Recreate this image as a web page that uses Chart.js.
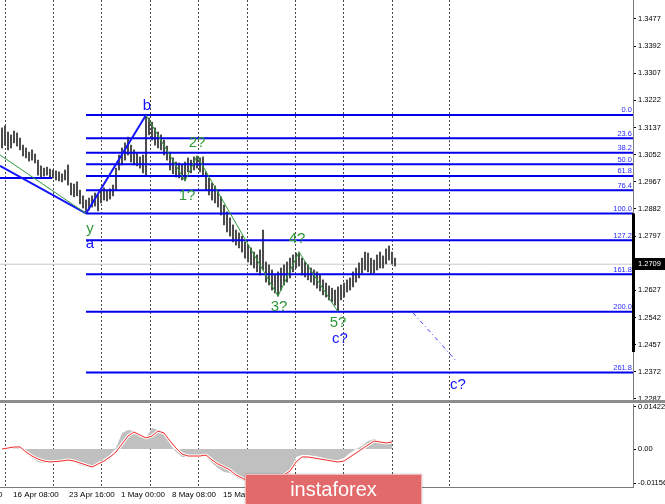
<!DOCTYPE html>
<html><head><meta charset="utf-8">
<script src="https://cdn.jsdelivr.net/npm/chart.js@4"></script>
<style>
html,body{margin:0;padding:0;background:#fff;width:665px;height:504px;overflow:hidden;}
#wrap{position:relative;width:665px;height:504px;}
#main{position:absolute;left:0;top:0;width:665px;height:404px;}
#osc{position:absolute;left:0;top:400px;width:665px;height:104px;}
#logo{position:absolute;left:245px;top:474px;width:177px;height:31px;background:#e36a6a;color:#fff;
 font:20px "Liberation Sans",Arial,sans-serif;display:flex;align-items:center;justify-content:center;
 box-sizing:border-box;border:1px solid #f3b8b8;box-shadow:0 0 2px rgba(0,0,0,.25);}
</style></head>
<body><div id="wrap">
<canvas id="main" width="665" height="404"></canvas>
<canvas id="osc" width="665" height="104"></canvas>
<div id="logo">instaforex</div>
</div>
<script>
// ---------- data ----------
const xMin = -0.667, xMax = 210.33;           // bar-index domain
const yMin = 1.22837, yMax = 1.35365;         // price domain
const priceTicks = [1.3477,1.3392,1.3307,1.3222,1.3137,1.3052,1.2967,1.2882,1.2797,1.2627,1.2542,1.2457,1.2372,1.2287];
const lastPrice = 1.2709;

const highs = [1.3136,1.3142,1.3123,1.3114,1.3126,1.3120,1.3104,1.3082,1.3073,1.3060,
1.3067,1.3054,1.3035,1.3017,1.3010,1.3013,1.3007,1.3004,1.3001,1.2998,
1.2992,1.3004,1.3020,1.2963,1.2960,1.2967,1.2941,1.2923,1.2910,1.2916,
1.2923,1.2932,1.2926,1.2941,1.2948,1.2941,1.2945,1.2957,1.3010,1.3051,
1.3073,1.3089,1.3107,1.3082,1.3067,1.3057,1.3045,1.3051,1.3176,1.3167,
1.3154,1.3136,1.3123,1.3114,1.3098,1.3079,1.3060,1.3042,1.3029,1.3026,
1.3020,1.3029,1.3042,1.3035,1.3045,1.3048,1.3042,1.3045,1.2998,1.2979,
1.2963,1.2954,1.2941,1.2920,1.2894,1.2873,1.2854,1.2832,1.2816,1.2807,
1.2797,1.2779,1.2769,1.2760,1.2747,1.2738,1.2754,1.2816,1.2716,1.2707,
1.2691,1.2675,1.2685,1.2697,1.2707,1.2716,1.2728,1.2738,1.2744,1.2747,
1.2728,1.2716,1.2707,1.2697,1.2691,1.2685,1.2675,1.2660,1.2650,1.2641,
1.2634,1.2628,1.2638,1.2644,1.2650,1.2660,1.2666,1.2685,1.2697,1.2713,
1.2728,1.2747,1.2744,1.2728,1.2722,1.2738,1.2747,1.2735,1.2757,1.2766,
1.2747,1.2728];
const lows = [1.3073,1.3082,1.3067,1.3073,1.3089,1.3079,1.3067,1.3048,1.3042,1.3032,
1.3035,1.3026,1.2988,1.2982,1.2985,1.2988,1.2982,1.2979,1.2973,1.2970,
1.2967,1.2973,1.2957,1.2926,1.2920,1.2923,1.2898,1.2885,1.2868,1.2879,
1.2888,1.2891,1.2876,1.2901,1.2910,1.2907,1.2913,1.2923,1.2941,1.3004,
1.3020,1.3035,1.3051,1.3029,1.3020,1.3017,1.3010,1.2995,1.2988,1.3114,
1.3098,1.3082,1.3073,1.3067,1.3051,1.3035,1.3004,1.2992,1.2982,1.2979,
1.2973,1.2970,1.2998,1.2995,1.3004,1.3010,1.2998,1.2988,1.2941,1.2926,
1.2910,1.2901,1.2888,1.2863,1.2832,1.2810,1.2797,1.2779,1.2769,1.2760,
1.2747,1.2728,1.2716,1.2707,1.2697,1.2685,1.2675,1.2691,1.2653,1.2644,
1.2628,1.2619,1.2609,1.2628,1.2644,1.2653,1.2666,1.2685,1.2697,1.2703,
1.2675,1.2669,1.2660,1.2653,1.2644,1.2634,1.2625,1.2613,1.2606,1.2597,
1.2591,1.2581,1.2560,1.2597,1.2606,1.2622,1.2628,1.2638,1.2653,1.2666,
1.2681,1.2691,1.2685,1.2678,1.2681,1.2691,1.2697,1.2697,1.2710,1.2722,
1.2710,1.2703];

const fibHigh = 1.3176, fibLow = 1.2868, fibStartIdx = 28;
const fibRatios = [0,23.6,38.2,50,61.8,76.4,100,127.2,161.8,200,261.8];

const waveIdx   = [48, 61, 65, 92, 99, 112];
const wavePrice = [1.3176, 1.2970, 1.3048, 1.2609, 1.2747, 1.2560];
const waveNames = ['b','1?','2?','3?','4?','5?'];
const aIdx = 28, aPrice = 1.2868;

const leftBlueX = [-0.667, 28],    leftBlueY = [1.3017, 1.2868];
const leftGreenX = [-0.667, 28],   leftGreenY = [1.3051, 1.2868];
const oldLevelX = [-0.667, 16.67], oldLevelY = [1.2979, 1.2979];
const projX = [137, 151.67],       projY = [1.2557, 1.2403];
const axisMark = [1.2868, 1.2434];

const gridIdx = [1,17.17,33.33,49.5,65.5,81.67,97.67,113.83,130,149.33];
const dateLabels = ['9 Apr 00:00','16 Apr 08:00','23 Apr 16:00','1 May 00:00','8 May 08:00','15 May 16:00'];
const datePos = [-13.67, 3.67, 22.33, 39.67, 56.67, 73.67];

const oscIdx = [0,2,4,6,8,10,12,14,16,18,20,22,24,26,28,30,32,34,36,38,40,42,44,46,48,50,52,54,56,58,
60,62,64,66,68,70,72,74,76,78,80,82,84,86,88,90,92,94,96,98,100,102,104,106,108,110,112,114,116,118,
120,122,124,126,128,130];
const oscHist = [0,0.00068,0.00101,0.00068,-0.00169,-0.00304,-0.00439,-0.00473,-0.00439,-0.00372,
-0.00372,-0.00406,-0.00439,-0.00541,-0.00608,-0.00608,-0.00439,-0.00338,-0.00203,0.00034,
0.00541,0.00642,0.00608,0.00406,0.00372,0.00710,0.00642,0.00507,0.00169,-0.00101,
-0.00270,-0.00270,-0.00237,-0.00237,-0.00270,-0.00473,-0.00642,-0.00777,-0.00811,-0.00946,
-0.01048,-0.01149,-0.01183,-0.01217,-0.01217,-0.01183,-0.01115,-0.00980,-0.00811,-0.00270,
-0.00203,-0.00203,-0.00237,-0.00270,-0.00338,-0.00372,-0.00372,-0.00304,-0.00135,0,
0.00101,0.00270,0.00338,0.00270,0.00237,0.00304];
const oscSignal = [0,0.00034,0.00068,0.00068,-0.00101,-0.00237,-0.00338,-0.00406,-0.00439,-0.00423,
-0.00406,-0.00372,-0.00406,-0.00473,-0.00541,-0.00608,-0.00507,-0.00406,-0.00270,-0.00101,
0.00169,0.00439,0.00575,0.00473,0.00372,0.00439,0.00608,0.00541,0.00270,0.00034,
-0.00169,-0.00237,-0.00237,-0.00237,-0.00203,-0.00372,-0.00507,-0.00608,-0.00710,-0.00879,
-0.00980,-0.01082,-0.01115,-0.01115,-0.01082,-0.01048,-0.00980,-0.00879,-0.00744,-0.00439,
-0.00270,-0.00270,-0.00304,-0.00338,-0.00372,-0.00406,-0.00439,-0.00406,-0.00270,-0.00135,
0,0.00135,0.00270,0.00237,0.00203,0.00237];
const oscMin = -0.01284, oscMax = 0.01521;
const oscTicks = [0.01422, 0, -0.01156];
const oscTickLabels = ['0.01422','0.00','-0.01156'];

// ---------- styles ----------
const FONT = '"Liberation Sans", Arial, sans-serif';
const BLUE = '#1414ff', GREEN = '#2f9a3a', FIBBLUE = '#0000ee';
const fibLevel = r => fibHigh - r / 100 * (fibHigh - fibLow);
const pts = (xs, ys) => xs.map((x, i) => ({x, y: ys[i]}));
const waveLabelOffset = {'b':[1,-9,BLUE],'1?':[2,15,GREEN],'2?':[0,-13,GREEN],'3?':[1,11,GREEN],'4?':[-2,-13,GREEN],'5?':[0,11,GREEN]};

function gridScale() {
  return {
    type: 'linear', min: xMin, max: xMax, offset: false, position: 'bottom',
    afterBuildTicks: s => { s.ticks = gridIdx.map(v => ({value: v})); },
    afterFit: s => { s.height = 0; s.paddingLeft = 0; s.paddingRight = 0; },
    ticks: {display: false},
    grid: {color: '#4a4a4a', lineWidth: 1, drawTicks: false, offset: false},
    border: {display: false, dash: [2, 2]}
  };
}

// ---------- main chart ----------
const mainDecor = {
  id: 'mainDecor',
  afterDatasetsDraw(chart) {
    const {ctx, chartArea: a, scales: {x, y}} = chart;
    ctx.save();
    ctx.font = '7.5px ' + FONT; ctx.fillStyle = '#2b2bff';
    ctx.textAlign = 'right'; ctx.textBaseline = 'bottom';
    fibRatios.forEach(r => ctx.fillText(r.toFixed(1), a.right - 1, y.getPixelForValue(fibLevel(r)) - 1));
    ctx.font = '15px ' + FONT; ctx.textAlign = 'center'; ctx.textBaseline = 'middle';
    const put = (t, xi, yv, dx, dy, c) => { ctx.fillStyle = c; ctx.fillText(t, x.getPixelForValue(xi) + dx, y.getPixelForValue(yv) + dy); };
    waveNames.forEach((n, i) => { const o = waveLabelOffset[n]; put(n, waveIdx[i], wavePrice[i], o[0], o[1], o[2]); });
    put('c?', waveIdx[5], wavePrice[5], 2, 27, BLUE);
    put('y', aIdx, aPrice, 4, 15, GREEN);
    put('a', aIdx, aPrice, 4, 30, BLUE);
    put('c?', projX[1], projY[1], 1, 23, BLUE);
    ctx.restore();
  },
  afterDraw(chart) {
    const {ctx, chartArea: a, scales: {y}} = chart;
    ctx.save();
    const y1 = y.getPixelForValue(axisMark[0]), y2 = y.getPixelForValue(axisMark[1]);
    ctx.fillStyle = '#000'; ctx.fillRect(a.right - 1, y1, 3, y2 - y1);
    const yy = Math.round(y.getPixelForValue(lastPrice));
    ctx.fillRect(a.right + 1, yy - 6, 31, 12);
    ctx.fillStyle = '#fff'; ctx.font = '7.5px ' + FONT; ctx.textAlign = 'left'; ctx.textBaseline = 'middle';
    ctx.fillText(lastPrice.toFixed(4), a.right + 5, yy);
    ctx.restore();
  }
};

const lineDs = (data, color, width, order, dash) => ({
  type: 'line', data, borderColor: color, borderWidth: width, pointRadius: 0,
  fill: false, tension: 0, order, borderDash: dash || []
});

const mainDatasets = [
  {type: 'bar', data: highs.map((h, i) => ({x: i, y: [lows[i], h]})),
   backgroundColor: '#4c4c4c', borderWidth: 0, barThickness: 1.4, order: 10},
  lineDs(pts([xMin, xMax], [lastPrice, lastPrice]), '#c8c8c8', 1, 20),
  ...fibRatios.map(r => lineDs(pts([fibStartIdx, xMax], [fibLevel(r), fibLevel(r)]), FIBBLUE, 2, 5)),
  lineDs(pts(oldLevelX, oldLevelY), FIBBLUE, 2, 5),
  lineDs(pts(leftBlueX, leftBlueY), BLUE, 2, 3),
  lineDs(pts(leftGreenX, leftGreenY), GREEN, 1, 2),
  lineDs(pts([aIdx, waveIdx[0]], [aPrice, wavePrice[0]]), BLUE, 2, 3),
  lineDs(pts(waveIdx, wavePrice), GREEN, 1, 2),
  lineDs(pts(projX, projY), '#3a3aff', 1, 2, [4, 3, 1, 3])
];

new Chart(document.getElementById('main'), {
  type: 'bar',
  data: {datasets: mainDatasets},
  options: {
    responsive: false, animation: false, devicePixelRatio: 1, events: [],
    layout: {padding: {top: 0, bottom: 4, left: 0, right: 0}},
    plugins: {legend: {display: false}, tooltip: {enabled: false}},
    scales: {
      x: {type: 'linear', min: xMin, max: xMax, offset: false, display: false},
      xg: gridScale(),
      y: {
        position: 'right', min: yMin, max: yMax,
        afterBuildTicks: s => { s.ticks = priceTicks.map(v => ({value: v})); },
        afterFit: s => { s.width = 32; s.paddingTop = 0; s.paddingBottom = 0; },
        ticks: {autoSkip: false, callback: v => Number(v).toFixed(4), font: {family: FONT, size: 7.5}, color: '#000', padding: 2},
        grid: {drawOnChartArea: false, tickLength: 3, color: '#000'},
        border: {color: '#7a7a7a', width: 1}
      }
    }
  },
  plugins: [mainDecor]
});

// ---------- oscillator ----------
const oscDecor = {
  id: 'oscDecor',
  afterDraw(chart) {
    const {ctx, chartArea: a, scales: {x}} = chart;
    ctx.save();
    ctx.fillStyle = '#8c8c8c'; ctx.fillRect(0, 0, 665, 3);
    ctx.strokeStyle = '#7a7a7a'; ctx.lineWidth = 1;
    ctx.beginPath(); ctx.moveTo(0, Math.round(a.bottom) + 0.5); ctx.lineTo(a.right, Math.round(a.bottom) + 0.5); ctx.stroke();
    ctx.font = '8px ' + FONT; ctx.fillStyle = '#000'; ctx.textAlign = 'left'; ctx.textBaseline = 'middle';
    dateLabels.forEach((t, i) => ctx.fillText(t, x.getPixelForValue(datePos[i]), 95));
    ctx.restore();
  }
};

new Chart(document.getElementById('osc'), {
  type: 'line',
  data: {datasets: [
    {data: pts(oscIdx, oscSignal), borderColor: '#f02828', borderWidth: 1, pointRadius: 0, tension: 0, fill: false, order: 1},
    {data: pts(oscIdx, oscSignal), borderColor: '#ffffff', borderWidth: 3, pointRadius: 0, tension: 0, fill: false, order: 2},
    {data: pts(oscIdx, oscHist), borderWidth: 0, borderColor: 'rgba(0,0,0,0)', backgroundColor: '#c0c0c0', pointRadius: 0, tension: 0, fill: 'origin', order: 3}
  ]},
  options: {
    responsive: false, animation: false, devicePixelRatio: 1, events: [],
    layout: {padding: {top: 4, bottom: 17, left: 0, right: 0}},
    plugins: {legend: {display: false}, tooltip: {enabled: false}},
    scales: {
      x: {type: 'linear', min: xMin, max: xMax, offset: false, display: false},
      xg: gridScale(),
      y: {
        position: 'right', min: oscMin, max: oscMax,
        afterBuildTicks: s => { s.ticks = oscTicks.map(v => ({value: v})); },
        afterFit: s => { s.width = 32; s.paddingTop = 0; s.paddingBottom = 0; },
        ticks: {autoSkip: false, callback: (v, i) => oscTickLabels[i], font: {family: FONT, size: 7.5}, color: '#000', padding: 2},
        grid: {drawOnChartArea: false, tickLength: 3, color: '#000'},
        border: {color: '#7a7a7a', width: 1}
      }
    }
  },
  plugins: [oscDecor]
});
</script></body></html>
